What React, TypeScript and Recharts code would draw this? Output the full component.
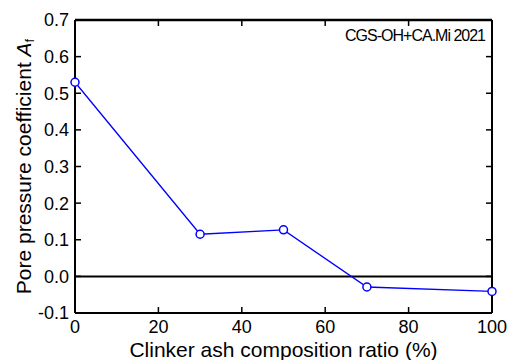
import React from 'react';
import { LineChart, Line, XAxis, YAxis, ReferenceLine, Label } from 'recharts';

const ratios = [0, 30, 50, 70, 100];
const poreCoeff = [0.53, 0.115, 0.127, -0.029, -0.041];
const xTicks = [0, 20, 40, 60, 80, 100];
const yTicks = [-0.1, 0, 0.1, 0.2, 0.3, 0.4, 0.5, 0.6, 0.7];
const annotation = 'CGS-OH+CA.Mi 2021';

const data = ratios.map((r, i) => ({ ratio: r, af: poreCoeff[i] }));

const FONT = '"Liberation Sans", Arial, sans-serif';
const TL = 6;
const OFF = 8;
const TICK_FS = 18;
const LABEL_FS = 21;
const HIDDEN_TICK = { stroke: 'transparent' };

const LeftTick = (p: any) => {
  const { x, y, payload } = p;
  return (
    <g>
      <line x1={x + OFF} x2={x + OFF + TL} y1={y} y2={y} stroke="#000" strokeWidth={1.5} />
      <text x={x + 2} y={y} dy="0.36em" textAnchor="end" fontSize={TICK_FS} fontFamily={FONT} fill="#000">
        {Number(payload.value).toFixed(1)}
      </text>
    </g>
  );
};
const RightTick = (p: any) => {
  const { x, y } = p;
  return <line x1={x - OFF} x2={x - OFF - TL} y1={y} y2={y} stroke="#000" strokeWidth={1.5} />;
};
const BottomTick = (p: any) => {
  const { x, y, payload } = p;
  return (
    <g>
      <line x1={x} x2={x} y1={y - OFF} y2={y - OFF - TL} stroke="#000" strokeWidth={1.5} />
      <text x={x} y={y - 2} dy="0.75em" textAnchor="middle" fontSize={TICK_FS} fontFamily={FONT} fill="#000">
        {payload.value}
      </text>
    </g>
  );
};
const TopTick = (p: any) => {
  const { x, y } = p;
  return <line x1={x} x2={x} y1={y + OFF} y2={y + OFF + TL} stroke="#000" strokeWidth={1.5} />;
};

const YLabel = (p: any) => {
  const vb = p.viewBox || {};
  const cx = vb.x + 23;
  const cy = vb.y + vb.height / 2;
  return (
    <text
      x={cx}
      y={cy}
      dy="0.36em"
      textAnchor="middle"
      transform={`rotate(-90, ${cx}, ${cy})`}
      fontSize={LABEL_FS}
      fontFamily={FONT}
      fill="#000"
    >
      Pore pressure coefficient <tspan fontStyle="italic">A</tspan>
      <tspan fontSize={13} dy="0.3em">f</tspan>
    </text>
  );
};

export default function App() {
  return (
    <div style={{ position: 'absolute', left: 0, top: 0, width: 507, height: 360 }}>
      <LineChart width={507} height={360} data={data} margin={{ top: 0, right: 0, bottom: 0, left: 0 }}>
        <XAxis
          dataKey="ratio"
          type="number"
          domain={[0, 100]}
          ticks={xTicks}
          tick={BottomTick}
          tickLine={HIDDEN_TICK}
          axisLine={{ stroke: '#000', strokeWidth: 2 }}
          height={47}
        >
          <Label
            value="Clinker ash composition ratio (%)"
            position="insideBottom"
            offset={3}
            style={{ fontSize: LABEL_FS, fontFamily: FONT, fill: '#000' }}
          />
        </XAxis>
        <XAxis
          xAxisId="t"
          dataKey="ratio"
          orientation="top"
          type="number"
          domain={[0, 100]}
          ticks={xTicks}
          tick={TopTick}
          tickLine={HIDDEN_TICK}
          axisLine={{ stroke: '#000', strokeWidth: 2.5 }}
          height={20}
        />
        <YAxis
          type="number"
          domain={[-0.1, 0.7]}
          ticks={yTicks}
          tick={LeftTick}
          tickLine={HIDDEN_TICK}
          axisLine={{ stroke: '#000', strokeWidth: 2 }}
          width={75}
        >
          <Label content={YLabel} />
        </YAxis>
        <YAxis
          yAxisId="r"
          orientation="right"
          type="number"
          domain={[-0.1, 0.7]}
          ticks={yTicks}
          tick={RightTick}
          tickLine={HIDDEN_TICK}
          axisLine={{ stroke: '#000', strokeWidth: 2 }}
          width={15}
        />
        <ReferenceLine
          segment={[
            { x: 0, y: 0.7 },
            { x: 100, y: 0.7 },
          ]}
          stroke="#000"
          strokeWidth={2}
          ifOverflow="visible"
        />
        <ReferenceLine y={0} stroke="#000" strokeWidth={2} />
        <Line
          xAxisId="t"
          yAxisId="r"
          dataKey="af"
          stroke="transparent"
          dot={false}
          activeDot={false}
          legendType="none"
          isAnimationActive={false}
        />
        <Line
          dataKey="af"
          stroke="#0000ff"
          strokeWidth={1.3}
          isAnimationActive={false}
          dot={{ r: 4, fill: '#fff', stroke: '#0000ff', strokeWidth: 1.5 }}
        />
      </LineChart>
      <div
        style={{
          position: 'absolute',
          right: 22,
          top: 27,
          fontFamily: FONT,
          fontSize: 16,
          lineHeight: '18px',
          letterSpacing: -1,
          color: '#000',
          whiteSpace: 'nowrap',
        }}
      >
        {annotation}
      </div>
    </div>
  );
}
